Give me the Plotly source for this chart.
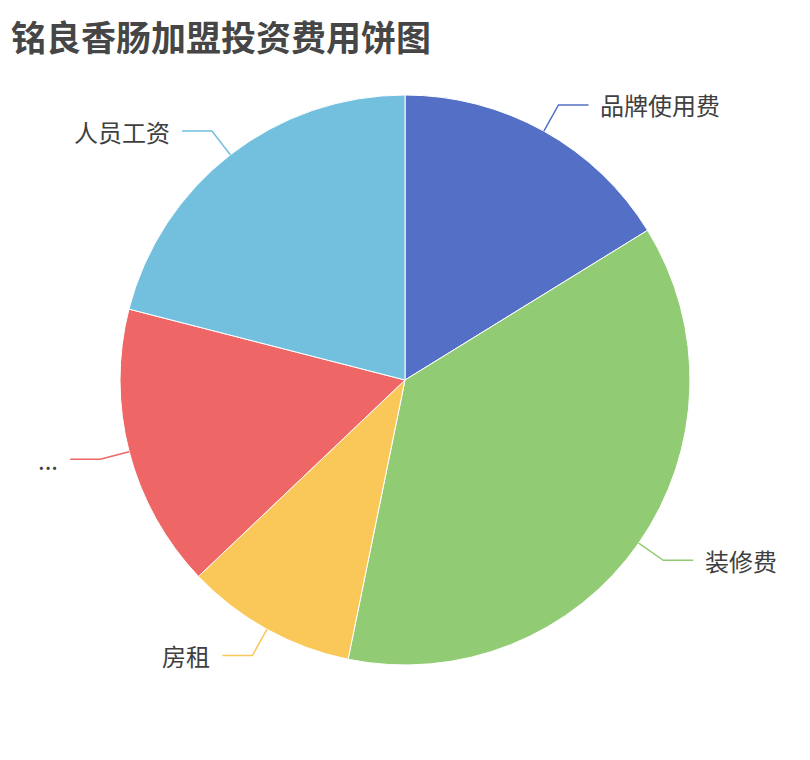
import math
import plotly.graph_objects as go

# Data (percent share of each cost item)
labels = ["品牌使用费", "装修费", "房租", "...", "人员工资"]
values = [16.2, 37.0, 9.7, 16.1, 21.0]
colors = ["#5470c6", "#91cc75", "#fac858", "#ee6666", "#73c0de"]
title_text = "铭良香肠加盟投资费用饼图"

OFF = 8  # page body margin
W, H = 810 - OFF, 760 - OFF
CX, CY, R = 405 - OFF, 380 - OFF, 285
LEN1, LEN2, GAP = 30, 30, 10

fig = go.Figure()
fig.add_trace(go.Pie(
    labels=labels, values=values, sort=False, direction="clockwise", rotation=0,
    marker=dict(colors=colors, line=dict(color="#ffffff", width=1)),
    textinfo="none", hoverinfo="label+value+percent", showlegend=False,
    domain=dict(x=[(CX - R) / W, (CX + R) / W], y=[(H - CY - R) / H, (H - CY + R) / H]),
))

def px(x):
    return x / W

def py(y):
    return 1 - y / H

total = sum(values)
cum = 0.0
shapes = []
annotations = []
for lab, v, c in zip(labels, values, colors):
    mid = (cum + v / 2) / total * 2 * math.pi
    cum += v
    sx, sy = CX + R * math.sin(mid), CY - R * math.cos(mid)
    bx, by = CX + (R + LEN1) * math.sin(mid), CY - (R + LEN1) * math.cos(mid)
    right = math.sin(mid) >= 0
    ex = bx + (LEN2 if right else -LEN2)
    path = f"M {px(sx)} {py(sy)} L {px(bx)} {py(by)} L {px(ex)} {py(by)}"
    shapes.append(dict(type="path", xref="paper", yref="paper", path=path,
                       line=dict(color=c, width=1.5)))
    annotations.append(dict(
        xref="paper", yref="paper", x=px(ex + (GAP if right else -GAP)), y=py(by),
        xanchor="left" if right else "right", yanchor="middle", showarrow=False,
        text=lab, font=dict(size=24, color="#404040", family="Noto Sans CJK SC"),
    ))

annotations.append(dict(
    xref="paper", yref="paper", x=px(10 - OFF - 1), y=1, xanchor="left", yanchor="top",
    showarrow=False, text=f"<b>{title_text}</b>",
    font=dict(size=35, color="#464646", family="Noto Sans CJK SC"),
))

fig.update_layout(
    width=W, height=H, margin=dict(l=0, r=0, t=0, b=0),
    paper_bgcolor="#ffffff", plot_bgcolor="#ffffff",
    shapes=shapes, annotations=annotations,
)

fig.write_html("out.html")
